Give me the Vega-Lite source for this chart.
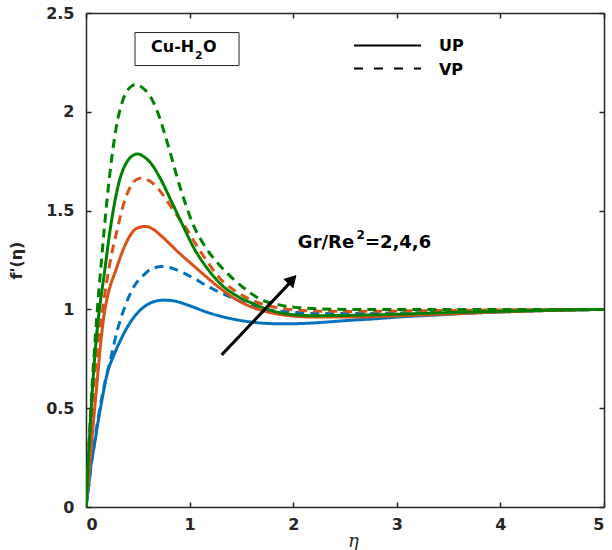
{
  "$schema": "https://vega.github.io/schema/vega-lite/v6.json",
  "autosize": "none",
  "width": 518,
  "height": 494,
  "padding": {"left": 86, "top": 13, "right": 8, "bottom": 43},
  "background": "white",
  "config": {
    "view": {"stroke": null},
    "axis": {
      "domainColor": "#262626",
      "domainWidth": 1.5,
      "tickColor": "#262626",
      "tickWidth": 1.5,
      "tickSize": -5,
      "grid": false,
      "labelFont": "DejaVu Sans",
      "labelFontWeight": "bold",
      "labelFontSize": 16,
      "labelColor": "#262626"
    }
  },
  "layer": [
    {
      "data": {
        "values": [
          {"eta": 0, "f": 0, "ratio": 2, "profile": "UP"},
          {"eta": 0.02, "f": 0.08, "ratio": 2, "profile": "UP"},
          {"eta": 0.045, "f": 0.2, "ratio": 2, "profile": "UP"},
          {"eta": 0.08, "f": 0.31, "ratio": 2, "profile": "UP"},
          {"eta": 0.109, "f": 0.407, "ratio": 2, "profile": "UP"},
          {"eta": 0.15, "f": 0.53, "ratio": 2, "profile": "UP"},
          {"eta": 0.206, "f": 0.677, "ratio": 2, "profile": "UP"},
          {"eta": 0.27, "f": 0.77, "ratio": 2, "profile": "UP"},
          {"eta": 0.335, "f": 0.846, "ratio": 2, "profile": "UP"},
          {"eta": 0.41, "f": 0.92, "ratio": 2, "profile": "UP"},
          {"eta": 0.495, "f": 0.981, "ratio": 2, "profile": "UP"},
          {"eta": 0.58, "f": 1.02, "ratio": 2, "profile": "UP"},
          {"eta": 0.66, "f": 1.04, "ratio": 2, "profile": "UP"},
          {"eta": 0.75, "f": 1.047, "ratio": 2, "profile": "UP"},
          {"eta": 0.85, "f": 1.043, "ratio": 2, "profile": "UP"},
          {"eta": 0.95, "f": 1.028, "ratio": 2, "profile": "UP"},
          {"eta": 1.05, "f": 1.009, "ratio": 2, "profile": "UP"},
          {"eta": 1.14, "f": 0.991, "ratio": 2, "profile": "UP"},
          {"eta": 1.26, "f": 0.971, "ratio": 2, "profile": "UP"},
          {"eta": 1.4, "f": 0.953, "ratio": 2, "profile": "UP"},
          {"eta": 1.58, "f": 0.937, "ratio": 2, "profile": "UP"},
          {"eta": 1.75, "f": 0.929, "ratio": 2, "profile": "UP"},
          {"eta": 1.9, "f": 0.927, "ratio": 2, "profile": "UP"},
          {"eta": 2.1, "f": 0.929, "ratio": 2, "profile": "UP"},
          {"eta": 2.3, "f": 0.935, "ratio": 2, "profile": "UP"},
          {"eta": 2.55, "f": 0.945, "ratio": 2, "profile": "UP"},
          {"eta": 2.75, "f": 0.951, "ratio": 2, "profile": "UP"},
          {"eta": 3.03, "f": 0.962, "ratio": 2, "profile": "UP"},
          {"eta": 3.4, "f": 0.972, "ratio": 2, "profile": "UP"},
          {"eta": 3.71, "f": 0.981, "ratio": 2, "profile": "UP"},
          {"eta": 4.0, "f": 0.987, "ratio": 2, "profile": "UP"},
          {"eta": 4.5, "f": 0.995, "ratio": 2, "profile": "UP"},
          {"eta": 5.0, "f": 1.0, "ratio": 2, "profile": "UP"},

          {"eta": 0, "f": 0, "ratio": 2, "profile": "VP"},
          {"eta": 0.02, "f": 0.08, "ratio": 2, "profile": "VP"},
          {"eta": 0.04, "f": 0.17, "ratio": 2, "profile": "VP"},
          {"eta": 0.093, "f": 0.37, "ratio": 2, "profile": "VP"},
          {"eta": 0.13, "f": 0.49, "ratio": 2, "profile": "VP"},
          {"eta": 0.174, "f": 0.61, "ratio": 2, "profile": "VP"},
          {"eta": 0.238, "f": 0.75, "ratio": 2, "profile": "VP"},
          {"eta": 0.3, "f": 0.89, "ratio": 2, "profile": "VP"},
          {"eta": 0.38, "f": 1.02, "ratio": 2, "profile": "VP"},
          {"eta": 0.463, "f": 1.116, "ratio": 2, "profile": "VP"},
          {"eta": 0.55, "f": 1.17, "ratio": 2, "profile": "VP"},
          {"eta": 0.63, "f": 1.205, "ratio": 2, "profile": "VP"},
          {"eta": 0.74, "f": 1.217, "ratio": 2, "profile": "VP"},
          {"eta": 0.85, "f": 1.205, "ratio": 2, "profile": "VP"},
          {"eta": 0.94, "f": 1.185, "ratio": 2, "profile": "VP"},
          {"eta": 1.036, "f": 1.159, "ratio": 2, "profile": "VP"},
          {"eta": 1.2, "f": 1.11, "ratio": 2, "profile": "VP"},
          {"eta": 1.3, "f": 1.085, "ratio": 2, "profile": "VP"},
          {"eta": 1.42, "f": 1.057, "ratio": 2, "profile": "VP"},
          {"eta": 1.6, "f": 1.02, "ratio": 2, "profile": "VP"},
          {"eta": 1.744, "f": 1.0, "ratio": 2, "profile": "VP"},
          {"eta": 2.0, "f": 0.986, "ratio": 2, "profile": "VP"},
          {"eta": 2.227, "f": 0.979, "ratio": 2, "profile": "VP"},
          {"eta": 2.6, "f": 0.979, "ratio": 2, "profile": "VP"},
          {"eta": 3.03, "f": 0.982, "ratio": 2, "profile": "VP"},
          {"eta": 3.5, "f": 0.987, "ratio": 2, "profile": "VP"},
          {"eta": 4.0, "f": 0.993, "ratio": 2, "profile": "VP"},
          {"eta": 4.5, "f": 0.997, "ratio": 2, "profile": "VP"},
          {"eta": 5.0, "f": 1.0, "ratio": 2, "profile": "VP"},

          {"eta": 0, "f": 0, "ratio": 4, "profile": "UP"},
          {"eta": 0.02, "f": 0.12, "ratio": 4, "profile": "UP"},
          {"eta": 0.045, "f": 0.27, "ratio": 4, "profile": "UP"},
          {"eta": 0.075, "f": 0.45, "ratio": 4, "profile": "UP"},
          {"eta": 0.109, "f": 0.643, "ratio": 4, "profile": "UP"},
          {"eta": 0.14, "f": 0.82, "ratio": 4, "profile": "UP"},
          {"eta": 0.174, "f": 0.97, "ratio": 4, "profile": "UP"},
          {"eta": 0.205, "f": 1.06, "ratio": 4, "profile": "UP"},
          {"eta": 0.235, "f": 1.12, "ratio": 4, "profile": "UP"},
          {"eta": 0.286, "f": 1.195, "ratio": 4, "profile": "UP"},
          {"eta": 0.335, "f": 1.27, "ratio": 4, "profile": "UP"},
          {"eta": 0.4, "f": 1.35, "ratio": 4, "profile": "UP"},
          {"eta": 0.463, "f": 1.4, "ratio": 4, "profile": "UP"},
          {"eta": 0.52, "f": 1.416, "ratio": 4, "profile": "UP"},
          {"eta": 0.575, "f": 1.42, "ratio": 4, "profile": "UP"},
          {"eta": 0.65, "f": 1.405, "ratio": 4, "profile": "UP"},
          {"eta": 0.72, "f": 1.375, "ratio": 4, "profile": "UP"},
          {"eta": 0.8, "f": 1.336, "ratio": 4, "profile": "UP"},
          {"eta": 0.9, "f": 1.285, "ratio": 4, "profile": "UP"},
          {"eta": 1.03, "f": 1.225, "ratio": 4, "profile": "UP"},
          {"eta": 1.15, "f": 1.17, "ratio": 4, "profile": "UP"},
          {"eta": 1.287, "f": 1.11, "ratio": 4, "profile": "UP"},
          {"eta": 1.45, "f": 1.05, "ratio": 4, "profile": "UP"},
          {"eta": 1.609, "f": 1.01, "ratio": 4, "profile": "UP"},
          {"eta": 1.77, "f": 0.985, "ratio": 4, "profile": "UP"},
          {"eta": 1.93, "f": 0.97, "ratio": 4, "profile": "UP"},
          {"eta": 2.2, "f": 0.961, "ratio": 4, "profile": "UP"},
          {"eta": 2.55, "f": 0.961, "ratio": 4, "profile": "UP"},
          {"eta": 3.03, "f": 0.968, "ratio": 4, "profile": "UP"},
          {"eta": 3.5, "f": 0.977, "ratio": 4, "profile": "UP"},
          {"eta": 4.0, "f": 0.987, "ratio": 4, "profile": "UP"},
          {"eta": 4.5, "f": 0.995, "ratio": 4, "profile": "UP"},
          {"eta": 5.0, "f": 1.0, "ratio": 4, "profile": "UP"},

          {"eta": 0, "f": 0, "ratio": 4, "profile": "VP"},
          {"eta": 0.02, "f": 0.17, "ratio": 4, "profile": "VP"},
          {"eta": 0.04, "f": 0.33, "ratio": 4, "profile": "VP"},
          {"eta": 0.077, "f": 0.62, "ratio": 4, "profile": "VP"},
          {"eta": 0.12, "f": 0.84, "ratio": 4, "profile": "VP"},
          {"eta": 0.158, "f": 0.99, "ratio": 4, "profile": "VP"},
          {"eta": 0.2, "f": 1.14, "ratio": 4, "profile": "VP"},
          {"eta": 0.24, "f": 1.26, "ratio": 4, "profile": "VP"},
          {"eta": 0.3, "f": 1.4, "ratio": 4, "profile": "VP"},
          {"eta": 0.35, "f": 1.51, "ratio": 4, "profile": "VP"},
          {"eta": 0.418, "f": 1.61, "ratio": 4, "profile": "VP"},
          {"eta": 0.48, "f": 1.655, "ratio": 4, "profile": "VP"},
          {"eta": 0.543, "f": 1.665, "ratio": 4, "profile": "VP"},
          {"eta": 0.618, "f": 1.648, "ratio": 4, "profile": "VP"},
          {"eta": 0.69, "f": 1.615, "ratio": 4, "profile": "VP"},
          {"eta": 0.753, "f": 1.572, "ratio": 4, "profile": "VP"},
          {"eta": 0.82, "f": 1.52, "ratio": 4, "profile": "VP"},
          {"eta": 0.9, "f": 1.46, "ratio": 4, "profile": "VP"},
          {"eta": 0.98, "f": 1.4, "ratio": 4, "profile": "VP"},
          {"eta": 1.06, "f": 1.33, "ratio": 4, "profile": "VP"},
          {"eta": 1.16, "f": 1.25, "ratio": 4, "profile": "VP"},
          {"eta": 1.287, "f": 1.16, "ratio": 4, "profile": "VP"},
          {"eta": 1.45, "f": 1.09, "ratio": 4, "profile": "VP"},
          {"eta": 1.609, "f": 1.045, "ratio": 4, "profile": "VP"},
          {"eta": 1.77, "f": 1.017, "ratio": 4, "profile": "VP"},
          {"eta": 1.93, "f": 1.002, "ratio": 4, "profile": "VP"},
          {"eta": 2.2, "f": 0.992, "ratio": 4, "profile": "VP"},
          {"eta": 2.55, "f": 0.99, "ratio": 4, "profile": "VP"},
          {"eta": 3.03, "f": 0.992, "ratio": 4, "profile": "VP"},
          {"eta": 3.5, "f": 0.995, "ratio": 4, "profile": "VP"},
          {"eta": 4.0, "f": 0.997, "ratio": 4, "profile": "VP"},
          {"eta": 4.5, "f": 0.999, "ratio": 4, "profile": "VP"},
          {"eta": 5.0, "f": 1.0, "ratio": 4, "profile": "VP"},

          {"eta": 0, "f": 0, "ratio": 6, "profile": "UP"},
          {"eta": 0.02, "f": 0.22, "ratio": 6, "profile": "UP"},
          {"eta": 0.045, "f": 0.45, "ratio": 6, "profile": "UP"},
          {"eta": 0.08, "f": 0.73, "ratio": 6, "profile": "UP"},
          {"eta": 0.125, "f": 0.98, "ratio": 6, "profile": "UP"},
          {"eta": 0.174, "f": 1.17, "ratio": 6, "profile": "UP"},
          {"eta": 0.238, "f": 1.42, "ratio": 6, "profile": "UP"},
          {"eta": 0.28, "f": 1.55, "ratio": 6, "profile": "UP"},
          {"eta": 0.319, "f": 1.645, "ratio": 6, "profile": "UP"},
          {"eta": 0.36, "f": 1.71, "ratio": 6, "profile": "UP"},
          {"eta": 0.399, "f": 1.75, "ratio": 6, "profile": "UP"},
          {"eta": 0.45, "f": 1.778, "ratio": 6, "profile": "UP"},
          {"eta": 0.495, "f": 1.787, "ratio": 6, "profile": "UP"},
          {"eta": 0.56, "f": 1.772, "ratio": 6, "profile": "UP"},
          {"eta": 0.624, "f": 1.741, "ratio": 6, "profile": "UP"},
          {"eta": 0.72, "f": 1.66, "ratio": 6, "profile": "UP"},
          {"eta": 0.817, "f": 1.555, "ratio": 6, "profile": "UP"},
          {"eta": 0.93, "f": 1.43, "ratio": 6, "profile": "UP"},
          {"eta": 1.042, "f": 1.31, "ratio": 6, "profile": "UP"},
          {"eta": 1.16, "f": 1.215, "ratio": 6, "profile": "UP"},
          {"eta": 1.287, "f": 1.135, "ratio": 6, "profile": "UP"},
          {"eta": 1.45, "f": 1.07, "ratio": 6, "profile": "UP"},
          {"eta": 1.609, "f": 1.03, "ratio": 6, "profile": "UP"},
          {"eta": 1.77, "f": 0.997, "ratio": 6, "profile": "UP"},
          {"eta": 1.93, "f": 0.978, "ratio": 6, "profile": "UP"},
          {"eta": 2.2, "f": 0.968, "ratio": 6, "profile": "UP"},
          {"eta": 2.55, "f": 0.97, "ratio": 6, "profile": "UP"},
          {"eta": 3.03, "f": 0.976, "ratio": 6, "profile": "UP"},
          {"eta": 3.5, "f": 0.984, "ratio": 6, "profile": "UP"},
          {"eta": 4.0, "f": 0.99, "ratio": 6, "profile": "UP"},
          {"eta": 4.5, "f": 0.996, "ratio": 6, "profile": "UP"},
          {"eta": 5.0, "f": 1.0, "ratio": 6, "profile": "UP"},

          {"eta": 0, "f": 0, "ratio": 6, "profile": "VP"},
          {"eta": 0.015, "f": 0.17, "ratio": 6, "profile": "VP"},
          {"eta": 0.03, "f": 0.33, "ratio": 6, "profile": "VP"},
          {"eta": 0.06, "f": 0.62, "ratio": 6, "profile": "VP"},
          {"eta": 0.093, "f": 0.88, "ratio": 6, "profile": "VP"},
          {"eta": 0.125, "f": 1.1, "ratio": 6, "profile": "VP"},
          {"eta": 0.15, "f": 1.25, "ratio": 6, "profile": "VP"},
          {"eta": 0.175, "f": 1.4, "ratio": 6, "profile": "VP"},
          {"eta": 0.206, "f": 1.57, "ratio": 6, "profile": "VP"},
          {"eta": 0.24, "f": 1.73, "ratio": 6, "profile": "VP"},
          {"eta": 0.27, "f": 1.85, "ratio": 6, "profile": "VP"},
          {"eta": 0.31, "f": 1.97, "ratio": 6, "profile": "VP"},
          {"eta": 0.35, "f": 2.05, "ratio": 6, "profile": "VP"},
          {"eta": 0.39, "f": 2.1, "ratio": 6, "profile": "VP"},
          {"eta": 0.44, "f": 2.13, "ratio": 6, "profile": "VP"},
          {"eta": 0.48, "f": 2.138, "ratio": 6, "profile": "VP"},
          {"eta": 0.55, "f": 2.12, "ratio": 6, "profile": "VP"},
          {"eta": 0.624, "f": 2.075, "ratio": 6, "profile": "VP"},
          {"eta": 0.69, "f": 2.0, "ratio": 6, "profile": "VP"},
          {"eta": 0.753, "f": 1.9, "ratio": 6, "profile": "VP"},
          {"eta": 0.82, "f": 1.78, "ratio": 6, "profile": "VP"},
          {"eta": 0.881, "f": 1.665, "ratio": 6, "profile": "VP"},
          {"eta": 0.96, "f": 1.535, "ratio": 6, "profile": "VP"},
          {"eta": 1.042, "f": 1.42, "ratio": 6, "profile": "VP"},
          {"eta": 1.16, "f": 1.31, "ratio": 6, "profile": "VP"},
          {"eta": 1.287, "f": 1.225, "ratio": 6, "profile": "VP"},
          {"eta": 1.39, "f": 1.17, "ratio": 6, "profile": "VP"},
          {"eta": 1.544, "f": 1.1, "ratio": 6, "profile": "VP"},
          {"eta": 1.68, "f": 1.052, "ratio": 6, "profile": "VP"},
          {"eta": 1.866, "f": 1.023, "ratio": 6, "profile": "VP"},
          {"eta": 2.07, "f": 1.008, "ratio": 6, "profile": "VP"},
          {"eta": 2.55, "f": 1.0, "ratio": 6, "profile": "VP"},
          {"eta": 3.0, "f": 1.0, "ratio": 6, "profile": "VP"},
          {"eta": 3.5, "f": 1.0, "ratio": 6, "profile": "VP"},
          {"eta": 4.0, "f": 1.0, "ratio": 6, "profile": "VP"},
          {"eta": 4.5, "f": 1.0, "ratio": 6, "profile": "VP"},
          {"eta": 5.0, "f": 1.0, "ratio": 6, "profile": "VP"}
        ]
      },
      "layer": [
        {
          "mark": {"type": "line", "interpolate": "monotone", "strokeWidth": 3, "clip": true},
          "encoding": {
            "x": {
              "field": "eta", "type": "quantitative",
              "scale": {"domain": [0, 5], "nice": false},
              "axis": {
                "orient": "bottom", "values": [0, 1, 2, 3, 4, 5], "format": "~g",
                "labelPadding": 14,
                "title": "η", "titleFont": "DejaVu Serif", "titleFontStyle": "italic",
                "titleFontWeight": "normal", "titleFontSize": 18, "titleColor": "#262626",
                "titlePadding": 0, "titleX": 267
              }
            },
            "y": {
              "field": "f", "type": "quantitative",
              "scale": {"domain": [0, 2.5], "nice": false},
              "axis": {
                "orient": "left", "values": [0, 0.5, 1, 1.5, 2, 2.5], "format": "~g",
                "labelPadding": 17,
                "title": "f'(η)", "titleFont": "DejaVu Sans", "titleFontWeight": "bold",
                "titleFontSize": 16, "titleColor": "#262626", "titlePadding": 21
              }
            },
            "color": {
              "field": "ratio", "type": "nominal",
              "scale": {"domain": [2, 4, 6], "range": ["#0072BD", "#D95319", "#008000"]},
              "legend": null
            },
            "strokeDash": {
              "field": "profile", "type": "nominal",
              "scale": {"domain": ["UP", "VP"], "range": [[1, 0], [9, 6]]},
              "legend": null
            }
          }
        },
        {
          "mark": {"type": "point", "opacity": 0},
          "encoding": {
            "x": {
              "field": "eta", "type": "quantitative",
              "axis": {"orient": "top", "values": [0, 1, 2, 3, 4, 5], "labels": false, "title": null}
            },
            "y": {
              "field": "f", "type": "quantitative",
              "axis": {"orient": "right", "values": [0, 0.5, 1, 1.5, 2, 2.5], "labels": false, "title": null}
            }
          }
        }
      ],
      "resolve": {"axis": {"x": "independent", "y": "independent"}}
    },
    {
      "data": {"values": [{}]},
      "layer": [
        {
          "mark": {"type": "rect", "fill": "white", "stroke": "#262626", "strokeWidth": 1},
          "encoding": {
            "x": {"datum": 0.473, "type": "quantitative", "axis": null},
            "x2": {"datum": 1.477},
            "y": {"datum": 2.401, "type": "quantitative", "axis": null},
            "y2": {"datum": 2.234}
          }
        },
        {
          "mark": {"type": "text", "text": "Cu-H", "align": "right", "baseline": "middle", "font": "DejaVu Sans", "fontWeight": "bold", "fontSize": 16, "color": "#000000"},
          "encoding": {
            "x": {"datum": 1.045, "type": "quantitative", "axis": null},
            "y": {"datum": 2.327, "type": "quantitative", "axis": null}
          }
        },
        {
          "mark": {"type": "text", "text": "2", "align": "left", "baseline": "middle", "font": "DejaVu Sans", "fontWeight": "bold", "fontSize": 11, "color": "#000000"},
          "encoding": {
            "x": {"datum": 1.052, "type": "quantitative", "axis": null},
            "y": {"datum": 2.281, "type": "quantitative", "axis": null}
          }
        },
        {
          "mark": {"type": "text", "text": "O", "align": "left", "baseline": "middle", "font": "DejaVu Sans", "fontWeight": "bold", "fontSize": 16, "color": "#000000"},
          "encoding": {
            "x": {"datum": 1.13, "type": "quantitative", "axis": null},
            "y": {"datum": 2.327, "type": "quantitative", "axis": null}
          }
        },
        {
          "mark": {"type": "rule", "color": "#000000", "strokeWidth": 2},
          "encoding": {
            "x": {"datum": 2.587, "type": "quantitative", "axis": null},
            "x2": {"datum": 3.234},
            "y": {"datum": 2.335, "type": "quantitative", "axis": null}
          }
        },
        {
          "mark": {"type": "rule", "color": "#000000", "strokeWidth": 2, "strokeDash": [9, 11]},
          "encoding": {
            "x": {"datum": 2.587, "type": "quantitative", "axis": null},
            "x2": {"datum": 3.234},
            "y": {"datum": 2.219, "type": "quantitative", "axis": null}
          }
        },
        {
          "mark": {"type": "text", "text": "UP", "align": "left", "baseline": "middle", "font": "DejaVu Sans", "fontWeight": "bold", "fontSize": 16, "color": "#000000"},
          "encoding": {
            "x": {"datum": 3.407, "type": "quantitative", "axis": null},
            "y": {"datum": 2.335, "type": "quantitative", "axis": null}
          }
        },
        {
          "mark": {"type": "text", "text": "VP", "align": "left", "baseline": "middle", "font": "DejaVu Sans", "fontWeight": "bold", "fontSize": 16, "color": "#000000"},
          "encoding": {
            "x": {"datum": 3.407, "type": "quantitative", "axis": null},
            "y": {"datum": 2.214, "type": "quantitative", "axis": null}
          }
        },
        {
          "mark": {"type": "text", "text": "Gr/Re", "align": "left", "baseline": "middle", "font": "DejaVu Sans", "fontWeight": "bold", "fontSize": 18, "color": "#000000"},
          "encoding": {
            "x": {"datum": 2.045, "type": "quantitative", "axis": null},
            "y": {"datum": 1.337, "type": "quantitative", "axis": null}
          }
        },
        {
          "mark": {"type": "text", "text": "2", "align": "left", "baseline": "middle", "font": "DejaVu Sans", "fontWeight": "bold", "fontSize": 12, "color": "#000000"},
          "encoding": {
            "x": {"datum": 2.612, "type": "quantitative", "axis": null},
            "y": {"datum": 1.375, "type": "quantitative", "axis": null}
          }
        },
        {
          "mark": {"type": "text", "text": "=2,4,6", "align": "left", "baseline": "middle", "font": "DejaVu Sans", "fontWeight": "bold", "fontSize": 18, "color": "#000000"},
          "encoding": {
            "x": {"datum": 2.692, "type": "quantitative", "axis": null},
            "y": {"datum": 1.337, "type": "quantitative", "axis": null}
          }
        },
        {
          "mark": {"type": "rule", "color": "#000000", "strokeWidth": 3},
          "encoding": {
            "x": {"datum": 1.31, "type": "quantitative", "axis": null},
            "x2": {"datum": 1.99},
            "y": {"datum": 0.77, "type": "quantitative", "axis": null},
            "y2": {"datum": 1.147}
          }
        },
        {
          "mark": {"type": "point", "shape": "triangle-up", "filled": true, "color": "#000000", "opacity": 1, "size": 190, "angle": 43},
          "encoding": {
            "x": {"datum": 1.992, "type": "quantitative", "axis": null},
            "y": {"datum": 1.152, "type": "quantitative", "axis": null}
          }
        }
      ]
    }
  ]
}
